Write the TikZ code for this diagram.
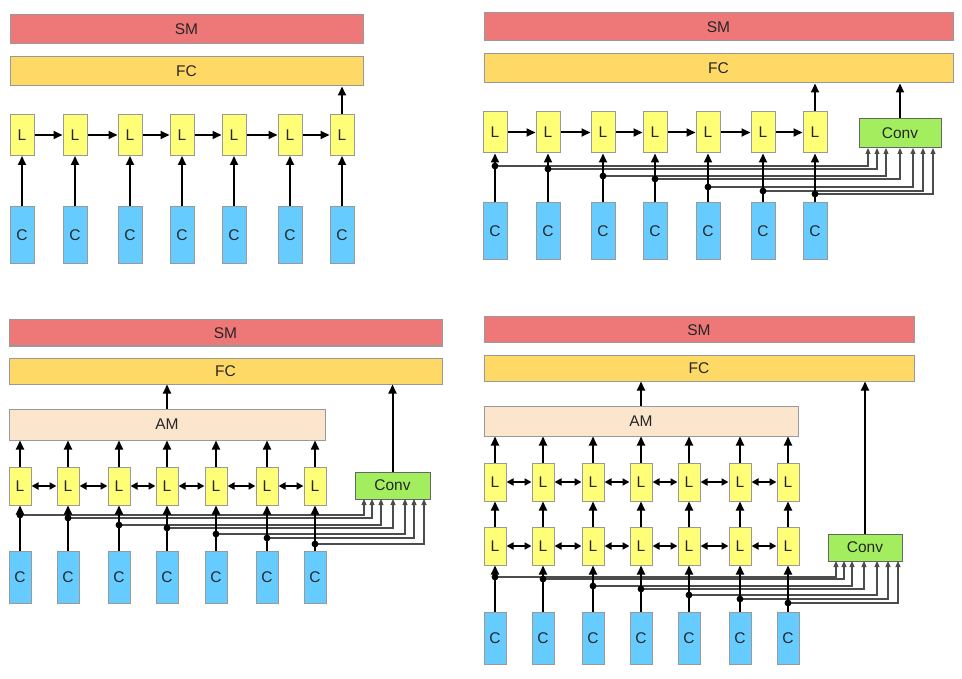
\documentclass[tikz,border=0pt]{standalone}
\usepackage{fontspec}
\setmainfont{Liberation Sans}
\usepackage{tikz}
\usetikzlibrary{arrows.meta,calc}

\definecolor{smred}{HTML}{EE7777}
\definecolor{fcgold}{HTML}{FFD966}
\definecolor{amskin}{HTML}{FCE5CD}
\definecolor{lyellow}{HTML}{FFFF77}
\definecolor{cblue}{HTML}{66CCFF}
\definecolor{convgreen}{HTML}{A3EE5E}
\definecolor{edgegray}{HTML}{999999}

\tikzset{
  box/.style={draw=edgegray, line width=1pt, inner sep=0pt, text=black!85,
    font=\fontsize{15.5}{17}\selectfont},
  lbox/.style={box, fill=lyellow, minimum width=24pt, minimum height=41pt},
  lsmall/.style={lbox, minimum width=22pt, minimum height=38pt},
  cbox/.style={box, fill=cblue, minimum width=24pt, minimum height=57pt},
  csmall/.style={cbox, minimum width=22pt, minimum height=52pt},
  smbox/.style={box, fill=smred},
  fcbox/.style={box, fill=fcgold},
  ambox/.style={box, fill=amskin},
  convbox/.style={box, fill=convgreen, draw=black!60},
  arr/.style={-{Triangle[length=9pt,width=8pt]}, line width=2pt},
  darr/.style={{Triangle[length=7pt,width=7pt]}-{Triangle[length=7pt,width=7pt]}, line width=2pt},
  bus/.style={-{Triangle[length=6pt,width=5pt]}, line width=1.1pt, draw=black!70},
}

\begin{document}
\begin{tikzpicture}[x=1pt, y=-1pt]
    \useasboundingbox (0,0) rectangle (962,679);

    % top left
    \node[smbox, minimum width=353pt, minimum height=29pt] (aSM) at (186.5,29.5) {SM};
    \node[fcbox, minimum width=353pt, minimum height=29pt] (aFC) at (186.5,71.5) {FC};
    \foreach \x [count=\i] in {22,75,130,182,234,290,342} {
        \node[lbox] (aL\i) at (\x,135) {L};
        \node[cbox] (aC\i) at (\x,235.5) {C};
        \draw[arr] (aC\i) -- (aL\i);
    }
    \foreach \i [count=\j from 2] in {1,...,6}
        \draw[arr] (aL\i) -- (aL\j);
    \draw[arr] (aL7.north) -- (aL7.north |- aFC.south);

    % top right
    \node[smbox, minimum width=469pt, minimum height=28pt] (bSM) at (718.5,27) {SM};
    \node[fcbox, minimum width=469pt, minimum height=29pt] (bFC) at (718.5,68.5) {FC};
    \node[convbox, minimum width=82pt, minimum height=29pt] (bConv) at (900,133.5) {Conv};
    \foreach \x/\y/\k [count=\i] in {495/166/868, 548/169/877, 603/176/886, 655/179/900,
                                     708/187/913, 763/191/923, 815/194/933} {
        \node[lbox] (bL\i) at (\x,132.5) {L};
        \node[cbox] (bC\i) at (\x,231.5) {C};
        \coordinate (bd\i) at (\x,\y);
        \coordinate (bk\i) at (\k,148);
        \draw[bus] (bd\i) -| (bk\i);
        \draw[arr] (bC\i) -- (bL\i);
        \fill (bd\i) circle (3.4pt);
    }
    \foreach \i [count=\j from 2] in {1,...,6}
        \draw[arr] (bL\i) -- (bL\j);
    \draw[arr] (bL7.north) -- (bL7.north |- bFC.south);
    \draw[arr] (bConv) -- (bConv |- bFC.south);

    % bottom left
    \node[smbox, minimum width=433pt, minimum height=26pt] (cSM) at (225.5,333) {SM};
    \node[fcbox, minimum width=433pt, minimum height=26pt] (cFC) at (225.5,371) {FC};
    \node[ambox, minimum width=316pt, minimum height=31pt] (cAM) at (167,424.5) {AM};
    \node[convbox, minimum width=75pt, minimum height=27pt] (cConv) at (392.5,485.5) {Conv};
    \foreach \x/\y/\k [count=\i] in {20/515/364, 68/518/372, 119/525/381, 167/528/393,
                                     216/534/405, 267/538/414, 315/544/424} {
        \node[lsmall] (cL\i) at (\x,486) {L};
        \node[csmall] (cC\i) at (\x,577) {C};
        \coordinate (cd\i) at (\x,\y);
        \coordinate (ck\i) at (\k,499);
        \draw[bus] (cd\i) -| (ck\i);
        \draw[arr] (cC\i) -- (cL\i);
        \fill (cd\i) circle (3.4pt);
        \draw[arr] (cL\i.north) -- (cL\i.north |- cAM.south);
    }
    \foreach \i [count=\j from 2] in {1,...,6}
        \draw[darr] (cL\i) -- (cL\j);
    \draw[arr] (cAM) -- (cAM |- cFC.south);
    \draw[arr] (cConv) -- (cConv |- cFC.south);

    % bottom right
    \node[smbox, minimum width=430pt, minimum height=26pt] (dSM) at (699,330) {SM};
    \node[fcbox, minimum width=430pt, minimum height=26pt] (dFC) at (699,368) {FC};
    \node[ambox, minimum width=314pt, minimum height=30pt] (dAM) at (641,421) {AM};
    \node[convbox, minimum width=74pt, minimum height=27pt] (dConv) at (865,547.5) {Conv};
    \foreach \x/\y/\k [count=\i] in {495/577/836, 543/579/844, 593/586/852, 641/589/864,
                                     689/595/877, 740/599/888, 788/603/898} {
        \node[lsmall] (dU\i) at (\x,482) {L};
        \node[lsmall] (dL\i) at (\x,546) {L};
        \node[csmall] (dC\i) at (\x,638) {C};
        \coordinate (dd\i) at (\x,\y);
        \coordinate (dk\i) at (\k,561);
        \draw[bus] (dd\i) -| (dk\i);
        \draw[arr] (dC\i) -- (dL\i);
        \fill (dd\i) circle (3.4pt);
        \draw[arr] (dL\i) -- (dU\i);
        \draw[arr] (dU\i.north) -- (dU\i.north |- dAM.south);
    }
    \foreach \i [count=\j from 2] in {1,...,6} {
        \draw[darr] (dU\i) -- (dU\j);
        \draw[darr] (dL\i) -- (dL\j);
    }
    \draw[arr] (dAM) -- (dAM |- dFC.south);
    \draw[arr] (dConv) -- (dConv |- dFC.south);
\end{tikzpicture}
\end{document}
